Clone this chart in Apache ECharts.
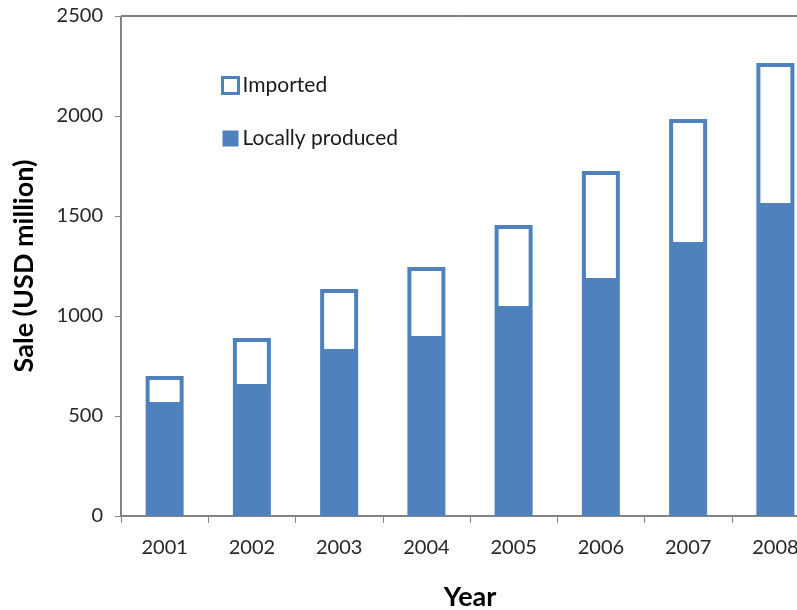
<!DOCTYPE html>
<html>
<head>
<meta charset="utf-8">
<title>Sales by year</title>
<script src="https://cdn.jsdelivr.net/npm/echarts@6/dist/echarts.min.js"></script>
<style>
  html, body { margin: 0; padding: 0; background: #fff; }
  #chart { width: 797px; height: 610px; }
</style>
</head>
<body>
<div id="chart"></div>
<script>
// Yearly sales, USD million
const years = ['2001', '2002', '2003', '2004', '2005', '2006', '2007', '2008'];
const locallyProduced = [550, 640, 815, 880, 1030, 1170, 1350, 1545];
const imported = [150, 250, 320, 365, 425, 555, 635, 720];
const yTicks = [0, 500, 1000, 1500, 2000, 2500];

const BLUE = '#4F81BD';
const FONT = 'Lato';

const chart = echarts.init(document.getElementById('chart'), null, { renderer: 'canvas' });

chart.setOption({
  animation: false,
  backgroundColor: '#ffffff',
  textStyle: { fontFamily: FONT },
  grid: {
    left: 121, top: 16, bottom: 94, right: -22,
    containLabel: false,
    outerBoundsMode: 'none',
    show: true, borderColor: '#000000', borderWidth: 1,
    backgroundColor: 'transparent'
  },
  legend: {
    orient: 'vertical',
    left: 216, top: 70,
    itemWidth: 16, itemHeight: 16,
    itemGap: 32,
    icon: 'rect',
    textStyle: { fontFamily: FONT, fontSize: 21, color: '#1a1a1a', padding: [0, 0, 0, -1] },
    data: [
      { name: 'Imported', itemStyle: { color: '#ffffff', borderColor: BLUE, borderWidth: 3 } },
      { name: 'Locally produced', itemStyle: { color: BLUE, borderColor: BLUE, borderWidth: 0 } }
    ]
  },
  xAxis: {
    type: 'category',
    data: years,
    name: 'Year',
    nameLocation: 'middle',
    nameGap: 68,
    nameTextStyle: { fontFamily: FONT, fontSize: 27, fontWeight: 'bold', color: '#000' },
    axisLine: { lineStyle: { color: '#868686', width: 1 } },
    axisTick: { show: true, length: 7, alignWithLabel: false, lineStyle: { color: '#868686' } },
    axisLabel: { fontFamily: FONT, fontSize: 20, color: '#262626', margin: 22 },
    splitLine: { show: false }
  },
  yAxis: {
    type: 'value',
    min: yTicks[0],
    max: yTicks[yTicks.length - 1],
    interval: yTicks[1] - yTicks[0],
    name: 'Sale (USD million)',
    nameLocation: 'middle',
    nameGap: 83,
    nameTextStyle: { fontFamily: FONT, fontSize: 27, fontWeight: 'bold', color: '#000' },
    axisLine: { show: true, lineStyle: { color: '#868686', width: 1 } },
    axisTick: { show: true, length: 6, inside: false, lineStyle: { color: '#868686' } },
    axisLabel: {
      fontFamily: FONT, fontSize: 20, color: '#262626', margin: 18,
      formatter: (v) => String(v)
    },
    splitLine: { show: false }
  },
  series: [
    {
      name: 'Locally produced',
      type: 'bar',
      stack: 'sale',
      data: locallyProduced,
      barWidth: 38,
      itemStyle: { color: BLUE, borderColor: BLUE, borderWidth: 4 }
    },
    {
      name: 'Imported',
      type: 'bar',
      stack: 'sale',
      data: imported,
      barWidth: 38,
      itemStyle: { color: '#ffffff', borderColor: BLUE, borderWidth: 4 }
    }
  ]
});
</script>
</body>
</html>
